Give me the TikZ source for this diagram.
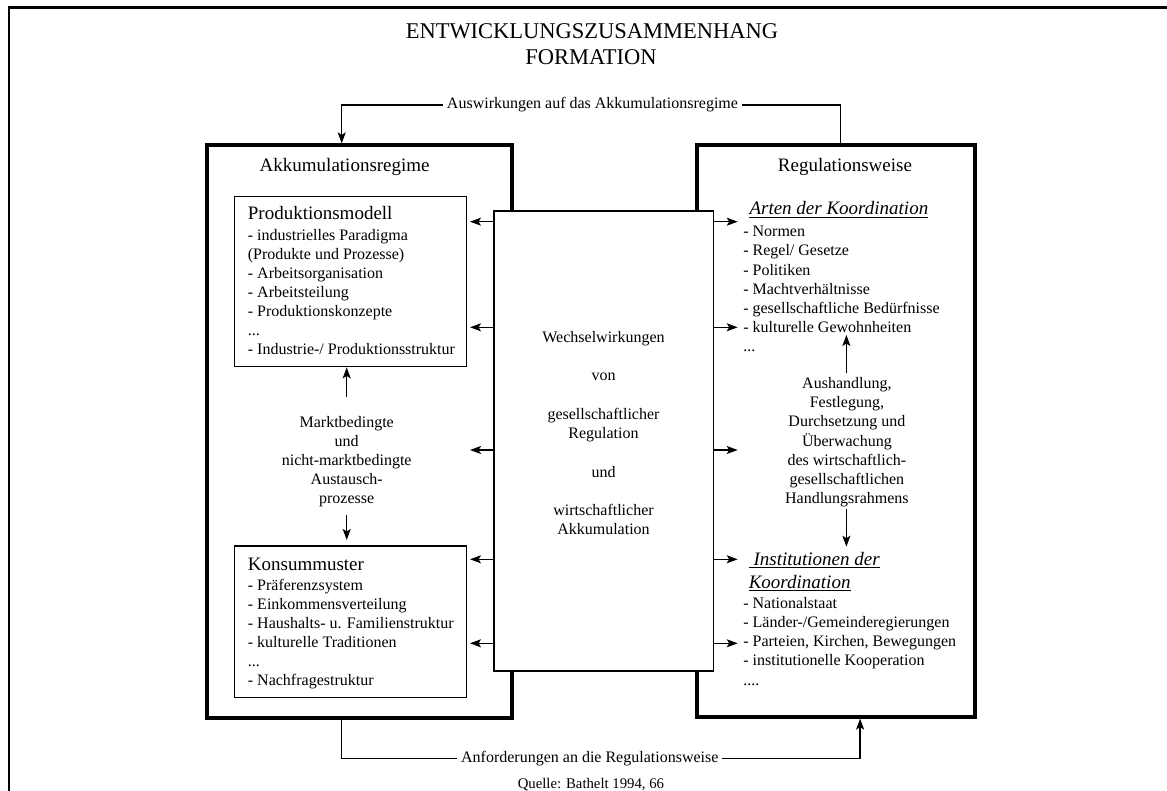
\documentclass[tikz,border=0pt]{standalone}
\usepackage{fontspec}
\setmainfont{Liberation Serif}
\usetikzlibrary{arrows.meta}
\newcommand\dotsthree{...}
\newcommand\dotsfour{....}

\begin{document}
\begin{tikzpicture}[x=1pt,y=-1pt,
  arr/.style={-{Stealth[length=11pt,width=8pt,inset=2.5pt]}, line width=1.3pt},
  wire/.style={line width=1.3pt},
  bigbox/.style={draw, line width=3.8pt, rectangle, inner sep=0},
  thinbox/.style={draw, line width=1.4pt, rectangle, inner sep=0, fill=white},
  txt/.style={anchor=base west, inner sep=0, font=\fontsize{16}{19}\selectfont},
  ctxt/.style={anchor=base, inner sep=0, font=\fontsize{16}{19}\selectfont},
  head/.style={inner sep=0, font=\fontsize{19}{22}\selectfont},
  ital/.style={anchor=base west, inner sep=0, font=\fontsize{19}{22}\selectfont\itshape},
  lab/.style={fill=white, inner xsep=3.8pt, inner ysep=1pt, font=\fontsize{16}{19}\selectfont},
  uline/.style={line width=1pt},
]
\useasboundingbox (0,0) rectangle (1167,791);

% outer frame
\draw[line width=3pt] (7.7,7.5) -- (1167,7.5);
\draw[line width=2pt] (8.7,6) -- (8.7,791);

% title
\node[anchor=base, inner sep=0, font=\fontsize{22.5}{26}\selectfont] (t1) at (592,38.3) {ENTWICKLUNGSZUSAMMENHANG};
\node[anchor=base, inner sep=0, font=\fontsize{22.5}{26}\selectfont] (t2) at (591,64.3) {FORMATION};

% the two main frames
\node[bigbox, minimum width=305pt, minimum height=573pt] (akk) at (359.8,431.8) {};
\node[bigbox, minimum width=277.9pt, minimum height=571.4pt] (reg) at (836.05,431) {};

\node[head, anchor=base] (akkhead) at (344.7,171.7) {Akkumulationsregime};
\node[head, anchor=base] (reghead) at (844.9,171.7) {Regulationsweise};

% production model
\node[thinbox, minimum width=232pt, minimum height=170pt] (prod) at (350.7,281.7) {};
\node[head, anchor=base west] (prodhead) at (247.7,220) {Produktionsmodell};
\foreach \t [count=\i] in {{- industrielles Paradigma},{(Produkte und Prozesse)},{- Arbeitsorganisation},{- Arbeitsteilung},{- Produktionskonzepte},\dotsthree,{- Industrie-/ Produktionsstruktur}}
  \node[txt] (prod\i) at (247.7,{241+19*(\i-1)}) {\t};

% consumption pattern
\node[thinbox, minimum width=232pt, minimum height=151.7pt] (kons) at (350.7,621.85) {};
\node[head, anchor=base west] (konshead) at (247.7,570) {Konsummuster};
\foreach \t [count=\i] in {{- Präferenzsystem},{- Einkommensverteilung},{- Haushalts- u. Familienstruktur},{- kulturelle Traditionen},\dotsthree,{- Nachfragestruktur}}
  \node[txt] (kons\i) at (247.7,{590.7+19*(\i-1)}) {\t};

% exchange processes between the two
\foreach \t [count=\i] in {Marktbedingte,und,nicht-marktbedingte,Austausch-,prozesse}
  \node[ctxt] (markt\i) at (346.7,{427+19*(\i-1)}) {\t};
\coordinate (mkUpA) at (346.7,397);
\coordinate (mkDnA) at (346.7,515);
\coordinate (mkDnB) at (346.7,540);
\draw[arr] (mkUpA) -- (prod.south -| mkUpA);
\draw[arr] (mkDnA) -- (mkDnB);

% central box
\node[thinbox, minimum width=219.4pt, minimum height=460pt] (mid) at (603.7,441) {};
\node[ctxt] (mid1) at (603.5,342.5) {Wechselwirkungen};
\node[ctxt] (mid2) at (603.5,381) {von};
\node[ctxt] (mid3) at (603.5,419.5) {gesellschaftlicher};
\node[ctxt] (mid4) at (603.5,438.5) {Regulation};
\node[ctxt] (mid5) at (603.5,477) {und};
\node[ctxt] (mid6) at (603.5,515.5) {wirtschaftlicher};
\node[ctxt] (mid7) at (603.5,534.5) {Akkumulation};

\foreach \y [count=\i] in {221.7,327.3,450,559.3,643.3} {
  \coordinate (lt\i) at (470,\y);
  \coordinate (rt\i) at (737.7,\y);
  \draw[arr] (mid.west |- lt\i) -- (lt\i);
  \draw[arr] (mid.east |- rt\i) -- (rt\i);
}

% kinds of coordination
\node[ital] (arten) at (749.3,215) {Arten der Koordination};
\draw[uline] ([yshift=-2.3pt]arten.base west) -- ([yshift=-2.3pt]arten.base east);
\foreach \t [count=\i] in {{- Normen},{- Regel/ Gesetze},{- Politiken},{- Machtverhältnisse},{- gesellschaftliche Bedürfnisse},{- kulturelle Gewohnheiten},\dotsthree}
  \node[txt] (art\i) at (743.1,{236.7+19.2*(\i-1)}) {\t};

% negotiation
\foreach \t [count=\i] in {{Aushandlung,},{Festlegung,},{Durchsetzung und},Überwachung,{des wirtschaftlich-},gesellschaftlichen,Handlungsrahmens}
  \node[ctxt] (aus\i) at (846.9,{388.5+19.2*(\i-1)}) {\t};
\coordinate (neUpA) at (846.4,372.7);
\coordinate (neUpB) at (846.4,335);
\coordinate (neDnA) at (846.4,509.3);
\coordinate (neDnB) at (846.4,546.7);
\draw[arr] (neUpA) -- (neUpB);
\draw[arr] (neDnA) -- (neDnB);

% institutions of coordination
\node[ital] (inst1) at (748.6,565) {\ Institutionen der};
\draw[uline] ([yshift=-2.3pt]inst1.base west) -- ([yshift=-2.3pt]inst1.base east);
\node[ital] (inst2) at (748.6,588.3) {Koordination};
\draw[uline] ([yshift=-2.3pt]inst2.base west) -- ([yshift=-2.3pt]inst2.base east);
\foreach \t [count=\i] in {{- Nationalstaat},{- Länder-/Gemeinderegierungen},{- Parteien, Kirchen, Bewegungen},{- institutionelle Kooperation},\dotsfour}
  \node[txt] (ins\i) at (743.1,{608.3+19.2*(\i-1)}) {\t};

% feedback loops between the frames
\node[lab] (auswirk) at (592.5,105) {Auswirkungen auf das Akkumulationsregime};
\coordinate (topR) at (840.2,105);
\coordinate (topL) at (341.7,105);
\draw[wire] (reg.north -| topR) -- (topR) -- (auswirk.east);
\draw[arr] (auswirk.west) -- (topL) -- (akk.north -| topL);

\node[lab] (anford) at (589.8,758.3) {Anforderungen an die Regulationsweise};
\coordinate (botL) at (341.7,758.3);
\coordinate (botR) at (860.1,758.3);
\draw[wire] (akk.south -| botL) -- (botL) -- (anford.west);
\draw[arr] (anford.east) -- (botR) -- (reg.south -| botR);

% source
\node[anchor=base, inner sep=0, font=\fontsize{14.75}{17}\selectfont] (quelle) at (590.9,788) {Quelle: Bathelt 1994, 66};
\end{tikzpicture}
\end{document}
